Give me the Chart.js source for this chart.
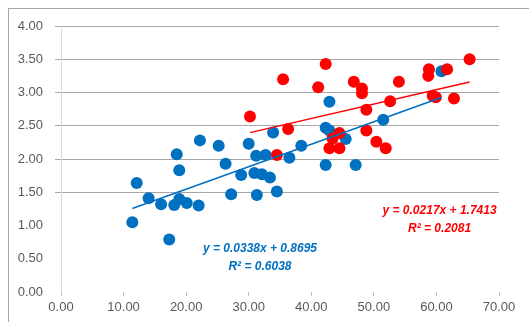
<!DOCTYPE html>
<html>
<head>
<meta charset="utf-8">
<script src="https://cdn.jsdelivr.net/npm/chart.js@4"></script>
<style>
	html, body { margin: 0; padding: 0; background: #fff; overflow: hidden; }
	#frame { position: absolute; left: 8px; top: 8px; width: 600px; height: 400px; border: 1px solid #a6a6a6; }
	#wrap { position: absolute; left: 0; top: 0; width: 529px; height: 322px; }
</style>
</head>
<body>
<div id="frame"></div>
<div id="wrap"><canvas id="scatter-chartcanvas"></canvas></div>
<script>
// blue series
var blueX = [11.4, 12.1, 14.0, 16.0, 17.3, 18.1, 18.5, 18.9, 18.9, 20.1, 22.0, 22.2, 25.2, 26.3, 27.2, 28.8, 30.0, 30.9, 31.2, 31.3, 32.1, 32.7, 33.4, 33.9, 34.5, 36.5, 38.4, 42.3, 42.9, 42.9, 42.3, 45.5, 47.1, 51.5, 60.8];
var blueY = [1.05, 1.64, 1.41, 1.32, 0.79, 1.31, 2.07, 1.83, 1.40, 1.34, 1.30, 2.28, 2.20, 1.93, 1.47, 1.76, 2.23, 1.79, 2.05, 1.46, 1.77, 2.06, 1.72, 2.40, 1.51, 2.02, 2.20, 2.47, 2.43, 2.86, 1.91, 2.30, 1.91, 2.59, 3.32];

// red series
var redX = [30.2, 35.5, 36.3, 34.5, 41.1, 42.3, 46.8, 48.1, 48.1, 48.8, 48.8, 44.5, 43.4, 42.9, 44.5, 50.4, 51.9, 52.6, 54.0, 58.8, 58.7, 59.4, 59.9, 61.7, 62.8, 65.3];
var redY = [2.64, 3.20, 2.45, 2.06, 3.08, 3.43, 3.16, 3.06, 2.99, 2.74, 2.43, 2.39, 2.31, 2.16, 2.16, 2.26, 2.16, 2.87, 3.16, 3.35, 3.25, 2.95, 2.93, 3.35, 2.91, 3.50];

// trendline coefficients [slope, intercept] and their labels
var blueFit = [0.0338, 0.8695];
var redFit = [0.0217, 1.7413];
var blueLabel = ["y = 0.0338x + 0.8695", "R² = 0.6038"];
var redLabel = ["y = 0.0217x + 1.7413", "R² = 0.2081"];
// label anchors in data units
var blueLabelAt = [31.8, 0.65];
var redLabelAt = [60.5, 1.22];

var BLUE = "#0070C0";
var RED = "#FF0000";

function toPoints(xs, ys) {
	var pts = [];
	for (var i = 0; i < xs.length; i++) {
		pts.push({ x: xs[i], y: ys[i] });
	}
	return pts;
}

function fitLine(xs, fit) {
	var lo = Math.min.apply(null, xs), hi = Math.max.apply(null, xs);
	return [{ x: lo, y: fit[0] * lo + fit[1] }, { x: hi, y: fit[0] * hi + fit[1] }];
}

// draws the trendline equations
var eqPlugin = {
	id: "eqLabels",
	afterDatasetsDraw: function(chart) {
		var ctx = chart.ctx;
		var xs = chart.scales.x, ys = chart.scales.y;
		function put(lines, at, color) {
			var px = xs.getPixelForValue(at[0]);
			var py = ys.getPixelForValue(at[1]);
			ctx.save();
			ctx.font = 'italic bold 12px "Liberation Sans", Arial, sans-serif';
			ctx.fillStyle = color;
			ctx.textAlign = "center";
			ctx.textBaseline = "middle";
			for (var i = 0; i < lines.length; i++) {
				ctx.fillText(lines[i], px, py + i * 18);
			}
			ctx.restore();
		}
		put(blueLabel, blueLabelAt, BLUE);
		put(redLabel, redLabelAt, RED);
	}
};

var ctx = document.getElementById("scatter-chartcanvas");

var data = {
	datasets: [
		{
			type: "line",
			data: fitLine(blueX, blueFit),
			borderColor: BLUE,
			borderWidth: 1.5,
			pointRadius: 0,
			fill: false,
			order: 0
		},
		{
			type: "line",
			data: fitLine(redX, redFit),
			borderColor: RED,
			borderWidth: 1.5,
			pointRadius: 0,
			fill: false,
			order: 0
		},
		{
			label: "red",
			data: toPoints(redX, redY),
			backgroundColor: RED,
			borderColor: RED,
			borderWidth: 0,
			pointRadius: 6,
			order: 1
		},
		{
			label: "blue",
			data: toPoints(blueX, blueY),
			backgroundColor: BLUE,
			borderColor: BLUE,
			borderWidth: 0,
			pointRadius: 6,
			order: 2
		}
	]
};

var options = {
	responsive: true,
	maintainAspectRatio: false,
	animation: false,
	layout: { padding: { left: 0, top: 26, right: 30, bottom: 0 } },
	plugins: {
		legend: { display: false },
		tooltip: { enabled: false }
	},
	scales: {
		x: {
			type: "linear",
			min: 0,
			max: 70,
			border: { display: false },
			grid: {
				drawOnChartArea: false,
				drawTicks: true,
				tickLength: 4,
				color: "#bfbfbf"
			},
			ticks: {
				stepSize: 10,
				padding: 4,
				color: "#595959",
				font: { family: '"Liberation Sans", Arial, sans-serif', size: 13 },
				callback: function(v) { return v.toFixed(2); }
			},
			afterFit: function(scale) { scale.height = 30; }
		},
		y: {
			min: 0,
			max: 4,
			border: { display: true, color: "#d9d9d9", width: 1 },
			grid: {
				tickLength: 6,
				lineWidth: 1,
				color: function(c) {
					return c.tick && c.tick.value >= 1.5 ? "#a6a6a6" : "rgba(0,0,0,0)";
				}
			},
			ticks: {
				stepSize: 0.5,
				padding: 12,
				color: "#595959",
				font: { family: '"Liberation Sans", Arial, sans-serif', size: 13 },
				callback: function(v) { return v.toFixed(2); }
			},
			afterFit: function(scale) { scale.width = 61; }
		}
	}
};

var chart = new Chart(ctx, {
	type: "scatter",
	data: data,
	options: options,
	plugins: [eqPlugin]
});
</script>
</body>
</html>
